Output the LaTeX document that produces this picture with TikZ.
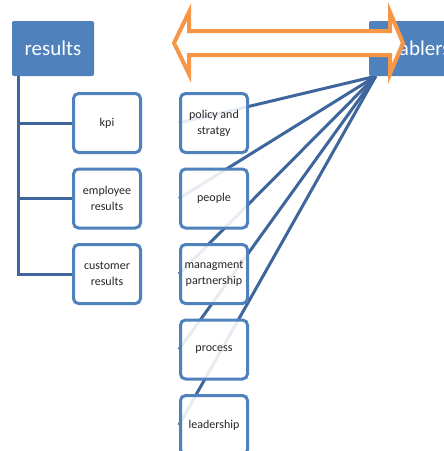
\documentclass[tikz,border=0pt]{standalone}
\usepackage{fontspec}
\setmainfont{Carlito}
\usepackage{xcolor}
\usetikzlibrary{backgrounds}
\definecolor{OfficeBlue}{RGB}{79,129,189}
\definecolor{LinkBlue}{RGB}{62,101,156}
\definecolor{OfficeOrange}{RGB}{247,150,70}
\tikzset{%
	header/.style={rectangle, rounded corners=2pt, draw=none, fill=OfficeBlue,
		text=white, minimum height=55pt, font=\fontsize{21}{24}\selectfont},
	item/.style={rectangle, rounded corners=5pt, draw=OfficeBlue, line width=3pt,
		fill=white, fill opacity=0.88, text opacity=1, text=black!85,
		minimum width=67pt, minimum height=59pt, align=center,
		font=\fontsize{12}{16}\selectfont},
	link/.style={draw=LinkBlue, line width=3pt},
	twoway/.style={draw=OfficeOrange, fill=white, line width=4pt, line join=miter},
}

\begin{document}
\begin{tikzpicture}[x=1pt,y=-1pt]
    \useasboundingbox (0,0) rectangle (444,451);

    \node [header, minimum width=82pt] (Results) at (53,48.5) {results};
    \node [header, minimum width=90pt] (Enablers) at (414,48.5) {enablers};

    \node [item] (Kpi) at (107,123) {kpi};
    \node [item] (Employee) [below of = Kpi, node distance=75.5pt] {employee\\results};
    \node [item] (Customer) [below of = Employee, node distance=75.5pt] {customer\\results};

    \node [item] (Policy) [right of = Kpi, node distance=107pt] {policy and\\stratgy};
    \node [item] (People) [below of = Policy, node distance=75.5pt] {people};
    \node [item] (Managment) [below of = People, node distance=75.5pt] {managment\\partnership};
    \node [item] (Process) [below of = Managment, node distance=75.5pt] {process};
    \node [item] (Leadership) [below of = Process, node distance=75.5pt] {leadership};

    \coordinate (Trunk) at ([xshift=7pt]Results.south west);
    \coordinate (Hub) at ([xshift=7pt]Enablers.south west);

    \begin{pgfonlayer}{background}
    \draw [link] (Trunk) -- (Trunk |- Customer.west) -- (Customer.west);
    \foreach \n in {Kpi, Employee}
        \draw [link] (Trunk |- \n.west) -- (\n.west);
    \foreach \n in {Policy, People, Managment, Process, Leadership}
        \draw [link] (Hub) -- (\n.west);
    \end{pgfonlayer}

    % two-way arrow between results and enablers
    \draw [twoway] (174,43) -- (189,12) -- (189,31) -- (390,31) -- (390,12)
        -- (403,43) -- (390,74) -- (390,55) -- (189,55) -- (189,74) -- cycle;

\end{tikzpicture}
\end{document}
